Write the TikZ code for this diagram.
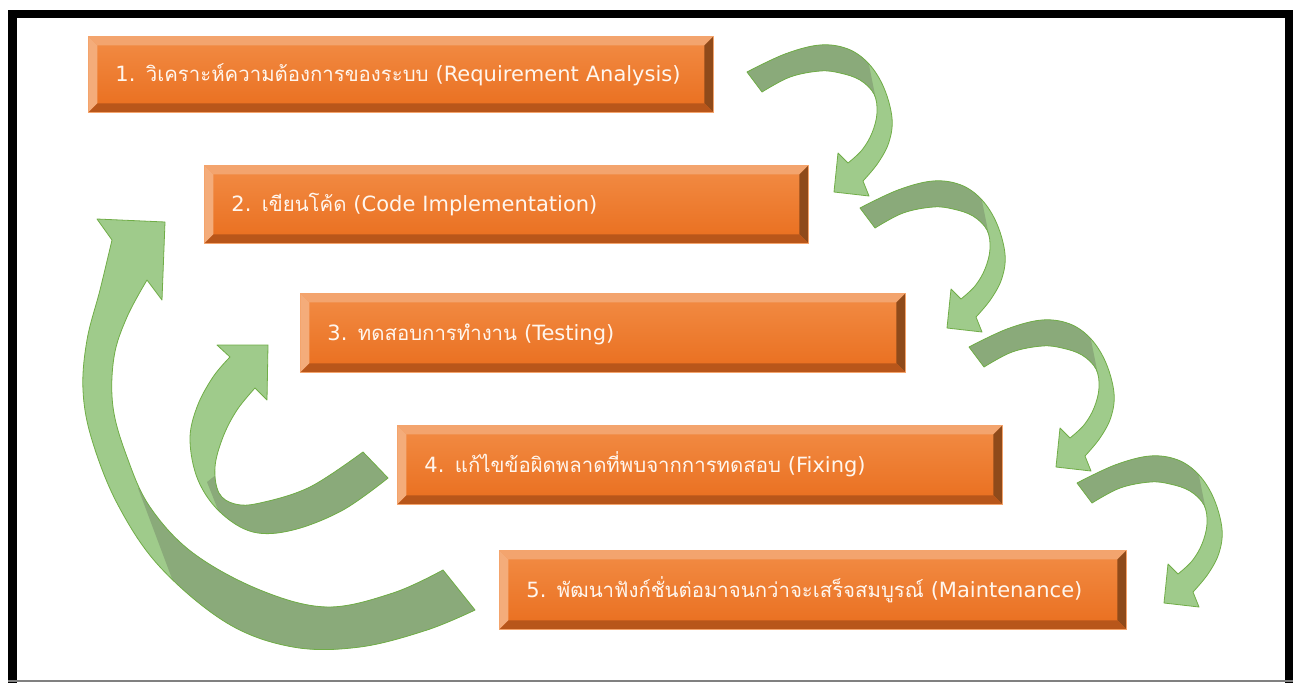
\documentclass[tikz,border=0pt]{standalone}
\usepackage{fontspec}
\newfontfamily\thaifont[Script=Thai,Scale=0.97]{Loma}
\newfontfamily\latinfont{DejaVu Sans}
\newcommand{\thx}[1]{{\thaifont #1}}
\definecolor{boxline}{HTML}{F4A46C}
\definecolor{facetop}{HTML}{F28C45}
\definecolor{facebot}{HTML}{E96E1E}
\definecolor{bevtop}{HTML}{F3A46E}
\definecolor{bevleft}{HTML}{F4AC7A}
\definecolor{bevright}{HTML}{8F4A1A}
\definecolor{bevbot}{HTML}{B8561A}
\definecolor{boxtext}{HTML}{FFF6EE}
\definecolor{arrdark}{HTML}{8AAA7A}
\definecolor{arrlight}{HTML}{9FCB8B}
\definecolor{arrline}{HTML}{70AD47}
\tikzset{
  stepbox/.style={draw=boxline, line width=0.8pt, top color=facetop, bottom color=facebot,
    anchor=north west, inner xsep=27pt, inner ysep=0pt, text height=15pt, text depth=0pt,
    align=left, text=boxtext, font=\latinfont\fontsize{21}{25}\selectfont,
    path picture={
      \fill[bevtop] (path picture bounding box.north west) -- (path picture bounding box.north east)
        -- ([xshift=-9pt,yshift=-9pt]path picture bounding box.north east)
        -- ([xshift=9pt,yshift=-9pt]path picture bounding box.north west) -- cycle;
      \fill[bevleft] (path picture bounding box.north west) -- ([xshift=9pt,yshift=-9pt]path picture bounding box.north west)
        -- ([xshift=9pt,yshift=9pt]path picture bounding box.south west)
        -- (path picture bounding box.south west) -- cycle;
      \fill[bevright] (path picture bounding box.north east) -- ([xshift=-9pt,yshift=-9pt]path picture bounding box.north east)
        -- ([xshift=-9pt,yshift=9pt]path picture bounding box.south east)
        -- (path picture bounding box.south east) -- cycle;
      \fill[bevbot] (path picture bounding box.south west) -- ([xshift=9pt,yshift=9pt]path picture bounding box.south west)
        -- ([xshift=-9pt,yshift=9pt]path picture bounding box.south east)
        -- (path picture bounding box.south east) -- cycle;
    }},
  lightarr/.style={fill=arrlight},
  darkarr/.style={fill=arrdark},
  arrout/.style={draw=arrline, line width=0.8pt, line join=round}
}
% right-hand curved arrow (drawn for step 1 -> 2, shifted for the others)
\newcommand{\downarcshape}[1]{%
  \path[#1] plot[smooth,tension=0.6] coordinates {(747,72) (785,54) (820,45) (848,49) (869,64) (884,88) (892,118) (889,142) (878,163) (863,181)}
    -- (869,196) -- (834,192) -- (838,153) -- (848,163)
    -- plot[smooth,tension=0.6] coordinates {(848,163) (862,150) (872,133) (877,113) (874,94) (860,80) (840,73) (820,71) (790,77) (762,92)} -- cycle;}
\newcommand{\downarc}{%
  \downarcshape{lightarr}
  \begin{scope}
    \clip (700,20) -- (860,20) -- (876,100) -- (700,100) -- cycle;
    \downarcshape{darkarr}
  \end{scope}
  \downarcshape{arrout}}
% big left arrow (5 -> 2)
\newcommand{\bigupshape}[1]{%
  \path[#1] plot[smooth,tension=0.6] coordinates {(475,610) (427,630) (360,647) (293,647) (227,623) (160,567) (118,505) (92,440) (83,390) (87,340) (100,290) (112,240)}
    -- (97,219) -- (165,222) -- (162,300) -- (147,280)
    -- plot[smooth,tension=0.6] coordinates {(147,280) (127,317) (114,357) (113,407) (127,457) (150,507) (193,553) (260,590) (327,607) (393,593) (443,570)} -- cycle;}
% small left arrow (4 -> 3)
\newcommand{\smallupshape}[1]{%
  \path[#1] plot[smooth,tension=0.6] coordinates {(388,478) (343,510) (293,530) (253,532) (220,512) (198,480) (190,440) (197,407) (213,377) (230,357)}
    -- (217,345) -- (268,345) -- (267,400) -- (255,388)
    -- plot[smooth,tension=0.6] coordinates {(255,388) (237,410) (223,437) (215,467) (219,493) (235,504) (260,503) (310,487) (363,452)} -- cycle;}
\begin{document}
\begin{tikzpicture}[x=1pt,y=-1pt]
\fill[white] (0,0) rectangle (1296,683);
\useasboundingbox (0,0) rectangle (1296,683);
% frame
\fill[black] (8,10) rectangle (1293,18);
\fill[black] (8,10) rectangle (17,683);
\fill[black] (1285,10) rectangle (1293,683);
\draw[gray, line width=1.2pt] (8,681) -- (1293,681);
% boxes
\node[stepbox, text width=571pt, minimum height=76pt] (b1) at (88,36) {1. \thx{วิเคราะห์ความต้องการของระบบ} (Requirement Analysis)};
\node[stepbox, text width=550pt, minimum height=78pt] (b2) at (204,165) {2. \thx{เขียนโค้ด} (Code Implementation)};
\node[stepbox, text width=551pt, minimum height=79pt] (b3) at (300,293) {3. \thx{ทดสอบการทำงาน} (Testing)};
\node[stepbox, text width=551pt, minimum height=79pt] (b4) at (397,425) {4. \thx{แก้ไขข้อผิดพลาดที่พบจากการทดสอบ} (Fixing)};
\node[stepbox, text width=573pt, minimum height=79pt] (b5) at (499,550) {5. \thx{พัฒนาฟังก์ชั่นต่อมาจนกว่าจะเสร็จสมบูรณ์} (Maintenance)};
% right-hand curved arrows
\downarc
\begin{scope}[shift={(113,136)}]\downarc\end{scope}
\begin{scope}[shift={(222,275)}]\downarc\end{scope}
\begin{scope}[shift={(330,411)}]\downarc\end{scope}
% big left arrow
\bigupshape{lightarr}
\begin{scope}
  \clip (138,488) -- (180,600) -- (180,690) -- (520,690) -- (520,488) -- cycle;
  \bigupshape{darkarr}
\end{scope}
\bigupshape{arrout}
% small left arrow
\smallupshape{lightarr}
\begin{scope}
  \clip (260,440) -- (207,482) -- (232,545) -- (420,545) -- (420,440) -- cycle;
  \smallupshape{darkarr}
\end{scope}
\smallupshape{arrout}
\end{tikzpicture}
\end{document}
